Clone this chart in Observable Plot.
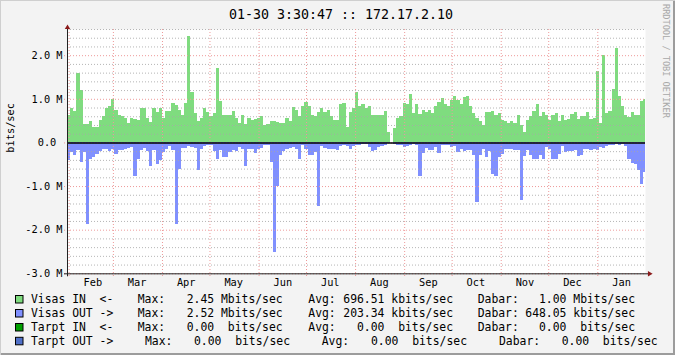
<!DOCTYPE html>
<html><head><meta charset="utf-8">
<script src="https://cdn.jsdelivr.net/npm/d3@7"></script>
<script src="https://cdn.jsdelivr.net/npm/@observablehq/plot@0.6"></script>
<style>
html,body{margin:0;padding:0;background:#F3F3F3;}
#wrap{position:relative;width:675px;height:355px;overflow:hidden;background:#F3F3F3;}
#wrap svg{position:absolute;left:0;top:0;}
</style></head><body><div id="wrap"></div>
<script>
// ---- data (Mbits/sec, one value per 2-day step) ----
const startDate = new Date(Date.UTC(2013, 0, 31, 0, 0));
const endDate = new Date(Date.UTC(2014, 0, 31, 3, 30));
const stepDays = 2;
const visasIn = [
 0.64,0.79,0.71,1.58,1.2,0.42,0.42,0.48,0.36,0.36,0.52,0.6,0.79,0.83,1.0,0.75,0.62,0.6,0.56,0.44,0.56,0.54,0.52,
 0.79,0.79,0.56,0.47,0.79,0.7,0.79,0.57,0.71,0.71,0.91,0.85,0.75,0.64,0.91,2.45,1.15,0.67,0.48,0.57,0.79,0.7,0.6,0.67,
 1.7,0.95,0.64,0.64,0.64,0.73,0.57,0.44,0.64,0.42,0.57,0.52,0.54,0.56,0.6,0.4,0.42,0.5,0.5,0.47,0.44,0.44,0.56,0.5,
 0.81,0.75,0.6,0.83,0.93,0.83,0.62,0.6,0.7,0.78,0.7,0.75,0.6,0.52,0.52,0.88,0.91,0.36,0.7,0.79,1.15,0.83,0.87,
 0.78,0.83,0.64,0.64,0.62,0.62,0.71,0.23,null,0.33,0.56,0.6,0.91,0.87,1.1,0.67,0.88,0.65,0.75,0.7,0.75,0.67,0.83,0.93,
 1.02,0.87,0.83,0.98,1.06,0.98,0.87,1.04,1.06,0.83,0.67,0.57,0.5,0.4,0.7,0.7,0.73,0.64,0.67,0.52,0.48,0.44,0.5,0.44,
 0.64,0.4,0.25,0.52,0.6,0.71,0.88,0.6,0.69,0.64,0.52,0.62,0.67,0.5,0.64,0.52,0.54,0.65,0.7,0.53,0.61,0.6,0.7,
 0.53,0.57,1.64,0.44,2.0,0.67,0.71,1.22,2.17,1.06,0.83,0.64,0.59,0.7,0.64,0.64,0.95,1.0
];
const visasOut = [
 0.41,0.22,0.28,0.18,0.45,0.22,1.86,0.37,0.33,0.26,0.2,0.14,0.14,0.2,0.16,0.26,0.18,0.18,0.16,0.12,0.1,0.76,0.37,
 0.18,0.12,0.2,0.53,0.18,0.49,0.4,0.23,0.16,0.08,0.18,1.86,0.6,0.12,0.12,0.08,0.1,0.12,0.64,0.14,0.08,0.05,0.05,0.2,
 0.37,0.18,0.33,0.33,0.22,0.18,0.2,0.1,0.16,0.53,0.14,0.16,0.25,0.16,0.12,0.05,0.06,0.45,2.52,1.0,0.29,0.2,0.16,0.12,
 0.11,0.14,0.37,0.06,0.14,0.29,0.29,0.23,1.46,0.08,0.12,0.16,0.16,0.16,0.18,0.08,0.05,0.09,0.14,0.09,0.05,0.05,0.03,
 0.03,0.1,0.2,0.18,0.11,0.08,0.05,0.02,null,0.04,0.06,0.06,0.1,0.09,0.06,0.03,0.05,0.78,0.24,0.12,0.17,0.18,0.11,0.25,
 0.06,0.05,0.05,0.1,0.08,0.22,0.14,0.19,0.18,0.18,0.29,1.36,0.29,0.14,0.33,0.2,0.72,0.78,0.33,0.26,0.16,0.16,0.16,0.18,
 0.18,1.32,0.3,0.18,0.29,0.37,0.37,0.28,0.37,0.1,0.14,0.37,0.37,0.26,0.09,0.22,0.19,0.2,0.18,0.31,0.28,0.15,0.16,
 0.18,0.14,0.18,0.11,0.12,0.09,0.06,0.05,0.03,0.05,0.03,0.08,0.37,0.47,0.49,0.64,0.95,0.67
];
const yTicks = [2, 1, 0, -1, -2, -3];
const yTickLabels = ["2.0 M", "1.0 M", "0.0\u00A0", "-1.0 M", "-2.0 M", "-3.0 M"];
const yTop = 2.6;
const titleText = "01-30 3:30:47 :: 172.17.2.10";
const yLabel = "bits/sec";
const watermark = "RRDTOOL / TOBI OETIKER";
const legendNames = ["Visas IN  <-", "Visas OUT ->", "Tarpt IN  <-", "Tarpt OUT ->"];
const legendMax = ["2.45 Mbits/sec", "2.52 Mbits/sec", "0.00  bits/sec", "0.00  bits/sec"];
const legendAvg = ["696.51 kbits/sec", "203.34 kbits/sec", "  0.00  bits/sec", "0.00  bits/sec"];
const legendDabar = ["  1.00 Mbits/sec", "648.05 kbits/sec", "  0.00  bits/sec", "0.00  bits/sec"];
const colors = ["#7FDC7F", "#8090FF", "#00A000", "#5070C8"];

// ---- build ----
const DAY = 864e5;
const rows = visasIn.map((v, i) => ({
  x1: new Date(+startDate + i * stepDays * DAY),
  x2: new Date(Math.min(+startDate + (i + 1) * stepDays * DAY, +endDate)),
  vin: v,
  vout: visasOut[i] == null ? null : -visasOut[i]
}));
const minorY = d3.range(-15, 14).filter(k => k % 5 !== 0).map(k => k / 5);
const monthStarts = d3.utcMonth.range(d3.utcMonth.ceil(startDate), endDate);
const monthLabels = monthStarts.map(d => new Date(+d + 15 * DAY)).filter(d => d < endDate);
const font = "DejaVu Sans Mono";
const gridRed = "#EE9A9A";

const chart = Plot.plot({
  width: 675, height: 355,
  marginLeft: 67, marginRight: 30, marginTop: 29, marginBottom: 81.7,
  x: {type: "utc", domain: [startDate, endDate], axis: null},
  y: {domain: [-3, yTop], axis: null},
  style: {background: "transparent", fontFamily: font, fontSize: "10.3px", color: "black", overflow: "visible"},
  marks: [
    Plot.frame({fill: "white", stroke: null}),
    Plot.rect(rows, {x1: "x1", x2: "x2", y1: 0, y2: "vin", fill: colors[0], shapeRendering: "crispEdges"}),
    Plot.rect(rows, {x1: "x1", x2: "x2", y1: 0, y2: "vout", fill: colors[1], shapeRendering: "crispEdges"}),
    Plot.ruleY(minorY, {stroke: "#A8A8A8", strokeDasharray: "1,2", strokeOpacity: 0.85}),
    Plot.ruleY(yTicks, {stroke: gridRed, strokeDasharray: "1,2", insetLeft: -3}),
    Plot.ruleX(monthStarts, {stroke: gridRed, strokeDasharray: "1,2", insetBottom: -3}),
    Plot.ruleY([0], {stroke: "black", strokeWidth: 1.5}),
    Plot.ruleX([startDate], {stroke: "#222", insetTop: -3, insetBottom: -3}),
    Plot.ruleY([-3], {stroke: "#222", insetLeft: -3, insetRight: -3}),
    Plot.dot([startDate], {x: d => d, y: yTop, symbol: "triangle", r: 2, fill: "#8B1A1A", stroke: null, dy: -2}),
    Plot.dot([endDate], {x: d => d, y: -3, symbol: "triangle", r: 2, fill: "#8B1A1A", stroke: null, dx: 4, rotate: 90}),
    Plot.text(yTicks, {x: startDate, y: d => d, text: (d, i) => yTickLabels[i], textAnchor: "end", dx: -5, fontSize: 10.3, fill: "black"}),
    Plot.text(monthLabels, {x: d => d, y: -3, text: d => d3.utcFormat("%b")(d), dy: 8.5, fontSize: 10.3, fill: "black"}),
    Plot.text([yLabel], {frameAnchor: "left", rotate: -90, dx: -57, dy: 1, fontSize: 10.3, fill: "black"})
  ]
});

const wrap = d3.select("#wrap");
// background canvas with shading frame
const bg = wrap.append("svg").attr("width", 675).attr("height", 355);
bg.append("rect").attr("width", 675).attr("height", 355).attr("fill", "#F3F3F3");
bg.append("path").attr("d", "M0,355V0H675").attr("stroke", "#CFCFCF").attr("stroke-width", 2).attr("fill", "none");
bg.append("path").attr("d", "M1,354H674V1").attr("stroke", "#9C9C9C").attr("stroke-width", 2).attr("fill", "none");

wrap.node().appendChild(chart);

const ov = wrap.append("svg").attr("width", 675).attr("height", 355)
  .style("font-family", font).style("white-space", "pre");
ov.append("text").attr("x", 341).attr("y", 18.5).attr("text-anchor", "middle")
  .attr("font-size", 13.3).attr("fill", "black").text(titleText);
ov.append("text").attr("transform", "translate(663,4) rotate(90)")
  .attr("font-size", 8.6).attr("fill", "#A8A8A8").text(watermark);

const rowY = [299.3, 313.3, 327.3, 341.1];
const fs = 11.4;
const placeRow = (i, pieces) => {
  const g = ov.append("g");
  g.append("rect").attr("x", 15.5).attr("y", rowY[i] - 3.8).attr("width", 7.5).attr("height", 7.5)
    .attr("fill", colors[i]).attr("stroke", "#000").attr("stroke-width", 1);
  pieces.forEach(([x, t]) => g.append("text").attr("x", x).attr("y", rowY[i] + 4.1)
    .attr("font-size", fs).attr("fill", "black").attr("xml:space", "preserve").text(t));
};
for (let i = 0; i < 3; i++) {
  placeRow(i, [[31, legendNames[i]], [137.7, "Max:"], [186.7, legendMax[i]], [308.3, "Avg:"],
    [343.3, legendAvg[i]], [477.7, "Dabar:"], [525.3, legendDabar[i]]]);
}
placeRow(3, [[31, legendNames[3]], [145, "Max:"], [194, legendMax[3]], [321.7, "Avg:"],
  [371, legendAvg[3]], [499, "Dabar:"], [561.7, legendDabar[3]]]);
</script></body></html>
